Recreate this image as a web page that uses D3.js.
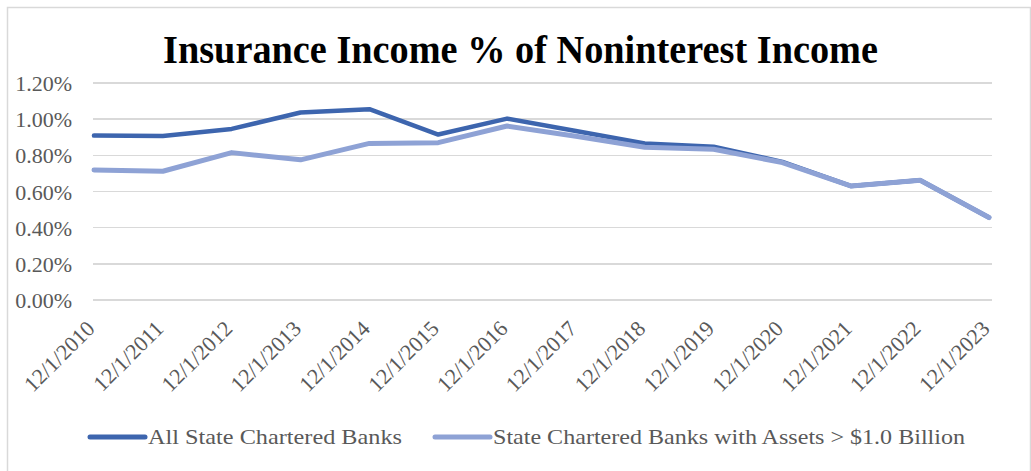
<!DOCTYPE html>
<html>
<head>
<meta charset="utf-8">
<title>Insurance Income % of Noninterest Income</title>
<script src="https://d3js.org/d3.v7.min.js"></script>
<style>
  body, html { margin: 0; padding: 0; background: #fff; }
  svg { display: block; font-family: "Liberation Serif", "Times New Roman", serif; }
  .grid line { stroke: #d9d9d9; stroke-width: 1.5; shape-rendering: crispEdges; }
  .lbl { fill: #595959; font-size: 22px; }
</style>
</head>
<body>
<svg id="chart" width="1031" height="471"></svg>
<script>
// data
var categories = ["12/1/2010","12/1/2011","12/1/2012","12/1/2013","12/1/2014","12/1/2015","12/1/2016",
                  "12/1/2017","12/1/2018","12/1/2019","12/1/2020","12/1/2021","12/1/2022","12/1/2023"];
var allBanks   = [0.909, 0.907, 0.946, 1.037, 1.055, 0.915, 1.003, 0.935, 0.865, 0.848, 0.764, 0.630, 0.662, 0.456];
var bigBanks   = [0.719, 0.712, 0.815, 0.775, 0.866, 0.870, 0.962, 0.905, 0.845, 0.834, 0.760, 0.630, 0.662, 0.456];
var yTicks     = [0, 0.2, 0.4, 0.6, 0.8, 1.0, 1.2];
var seriesNames = ["All State Chartered Banks", "State Chartered Banks with Assets > $1.0 Billion"];
var seriesColors = ["#3d65ae", "#8ea2d5"];

var svg = d3.select("#chart");

// outer border
svg.append("rect")
  .attr("x", 7.5).attr("y", 7.5)
  .attr("width", 1023).attr("height", 480)
  .attr("fill", "none").attr("stroke", "#d9d9d9").attr("stroke-width", 1.5);

var x = d3.scalePoint().domain(categories).range([94, 989]);
var y = d3.scaleLinear().domain([0, 1.2]).range([300, 83]);

// title
svg.append("text")
  .attr("x", 163).attr("y", 63)
  .attr("textLength", 715).attr("lengthAdjust", "spacingAndGlyphs")
  .style("font-size", "39px").style("font-weight", "bold").attr("fill", "#000")
  .text("Insurance Income % of Noninterest Income");

// gridlines
svg.append("g").attr("class", "grid")
  .selectAll("line").data(yTicks).join("line")
  .attr("x1", 93).attr("x2", 992)
  .attr("y1", d => y(d)).attr("y2", d => y(d));

// y labels
svg.append("g").selectAll("text").data(yTicks).join("text")
  .attr("class", "lbl")
  .attr("x", 72).attr("y", d => y(d) + 8)
  .attr("text-anchor", "end")
  .text(d => d3.format(".2f")(d) + "%");

// x labels, rotated
svg.append("g").selectAll("text").data(categories).join("text")
  .attr("class", "lbl")
  .attr("text-anchor", "end")
  .attr("transform", d => "translate(" + (x(d) + 2) + ",330) rotate(-45)")
  .text(d => d);

// lines
var line = d3.line().x((d, i) => x(categories[i])).y(d => y(d));
[allBanks, bigBanks].forEach(function (vals, k) {
  svg.append("path")
    .datum(vals)
    .attr("d", line)
    .attr("fill", "none")
    .attr("stroke", seriesColors[k])
    .attr("stroke-width", k === 0 ? 4.5 : 5)
    .attr("stroke-linejoin", "round")
    .attr("stroke-linecap", "round");
});

// legend
var legendPos = [{sx: 90, tx: 148, w: 254}, {sx: 435, tx: 493, w: 472}];
seriesNames.forEach(function (name, k) {
  var p = legendPos[k];
  svg.append("line")
    .attr("x1", p.sx).attr("x2", p.sx + 55)
    .attr("y1", 437).attr("y2", 437)
    .attr("stroke", seriesColors[k]).attr("stroke-width", 5)
    .attr("stroke-linecap", "round");
  svg.append("text")
    .attr("class", "lbl")
    .attr("x", p.tx).attr("y", 444)
    .attr("textLength", p.w).attr("lengthAdjust", "spacingAndGlyphs")
    .text(name);
});
</script>
</body>
</html>
